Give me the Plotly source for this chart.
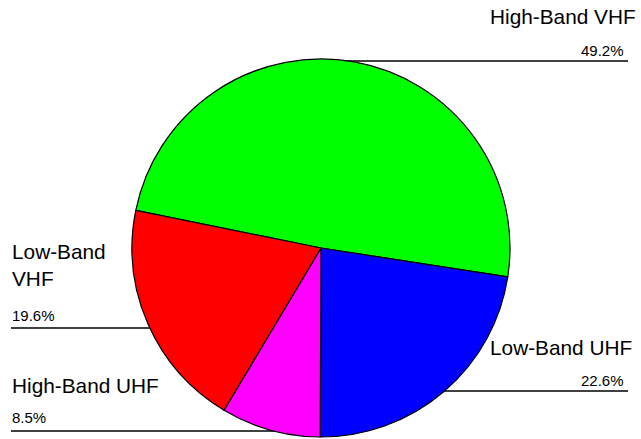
import math
import plotly.graph_objects as go

labels = ["High-Band VHF", "Low-Band UHF", "High-Band UHF", "Low-Band VHF"]
label_text = ["High-Band VHF", "Low-Band UHF", "High-Band UHF", "Low-Band<br>VHF"]
values = [49.2, 22.6, 8.5, 19.6]
colors = ["#00ff00", "#0000ff", "#ff00ff", "#ff0000"]

W, H = 641, 439
cx, cy, r = 321, 248, 189

fig = go.Figure(go.Pie(
    labels=labels, values=values, sort=False, direction="clockwise",
    rotation=-78.5, textinfo="none", hoverinfo="label+percent",
    marker=dict(colors=colors, line=dict(color="black", width=1.2)),
    domain=dict(x=[(cx - r) / W, (cx + r) / W], y=[1 - (cy + r) / H, 1 - (cy - r) / H]),
    showlegend=False,
))

# label layout: (name y, pct y, line y, side)
layout_pos = [
    (17, 50, 61, "right"),
    (347, 380, 391, "right"),
    (385, 417, 431, "left"),
    (265, 315, 328, "left"),
]

font = "Liberation Sans, Arial, sans-serif"
annotations = []
shapes = []
for txt, v, (ny, py, ly, side) in zip(label_text, values, layout_pos):
    edge = math.sqrt(max(r * r - (ly - cy) ** 2, 0))
    if side == "right":
        x0, x1 = cx + edge - 2, 628
        annotations.append(dict(x=(638 if "VHF" in txt else 634) / W, y=1 - ny / H, xref="paper", yref="paper",
                                text=txt, showarrow=False, xanchor="right", yanchor="middle",
                                font=dict(size=20.8, color="black", family=font)))
        annotations.append(dict(x=626 / W, y=1 - py / H, xref="paper", yref="paper",
                                text=f"{v:.1f}%", showarrow=False, xanchor="right", yanchor="middle",
                                font=dict(size=15, color="black", family=font)))
    else:
        x0, x1 = 11, cx - edge + 2
        annotations.append(dict(x=10 / W, y=1 - ny / H, xref="paper", yref="paper",
                                text=txt, showarrow=False, xanchor="left", yanchor="middle", align="left",
                                font=dict(size=20.8, color="black", family=font)))
        annotations.append(dict(x=10 / W, y=1 - py / H, xref="paper", yref="paper",
                                text=f"{v:.1f}%", showarrow=False, xanchor="left", yanchor="middle",
                                font=dict(size=15, color="black", family=font)))
    shapes.append(dict(type="line", xref="paper", yref="paper", x0=x0 / W, x1=x1 / W,
                       y0=1 - ly / H, y1=1 - ly / H, line=dict(color="black", width=1.3), layer="below"))

fig.update_layout(
    width=W, height=H, margin=dict(l=0, r=0, t=0, b=0),
    paper_bgcolor="white", plot_bgcolor="white",
    annotations=annotations, shapes=shapes,
)
fig.write_html("out.html", config={"displayModeBar": False},
               post_script="document.body.style.margin='0';document.body.style.overflow='hidden';")
